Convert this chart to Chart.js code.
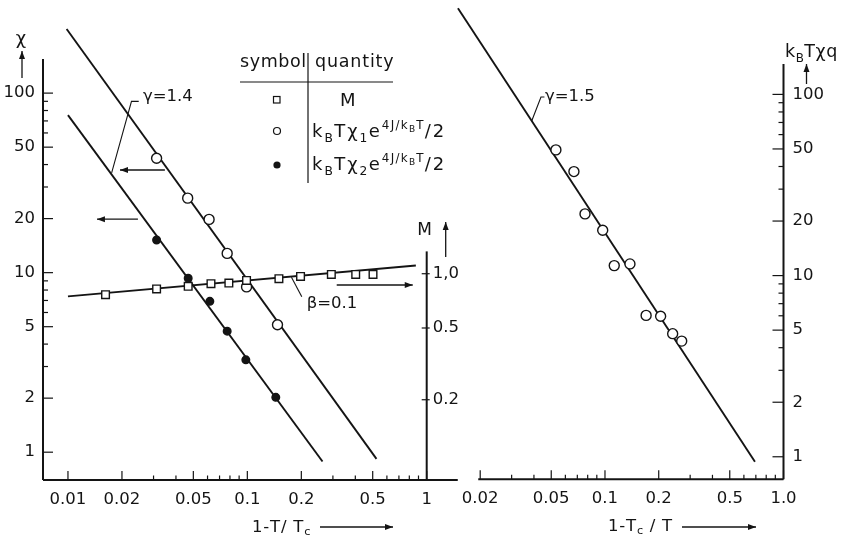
<!DOCTYPE html>
<html>
<head>
<meta charset="utf-8">
<title>Susceptibility and magnetisation exponents</title>
<script src="https://cdn.jsdelivr.net/npm/chart.js@4.4.1/dist/chart.umd.min.js"></script>
<style>
  html, body { margin: 0; padding: 0; background: #fff; }
  #wrap { position: relative; width: 847px; height: 537px; }
  #wrap canvas { position: absolute; left: 0; top: 0; }
</style>
</head>
<body>
<div id="wrap">
  <canvas id="leftChart" width="847" height="537"></canvas>
  <canvas id="rightChart" width="847" height="537"></canvas>
</div>
<script>
// ---- values ----

// left panel, x = 1 - T/Tc
const mT = [0.0162, 0.0312, 0.0468, 0.0627, 0.0789, 0.099, 0.150, 0.198, 0.294, 0.402, 0.502];
const mValues = [0.765, 0.823, 0.851, 0.880, 0.888, 0.918, 0.938, 0.966, 0.991, 0.991, 0.991];
const chi1T = [0.0312, 0.0465, 0.0612, 0.0772, 0.099, 0.1473];
const chi1Values = [43.4, 26.0, 19.8, 12.8, 8.33, 5.13];
const chi2T = [0.0312, 0.0468, 0.0618, 0.0772, 0.0981, 0.1441];
const chi2Values = [15.2, 9.31, 6.92, 4.72, 3.27, 2.02];

// fitted power laws, end points of the drawn lines
const chi1FitT = [0.00983, 0.5248];
const chi1FitValues = [227.5, 0.918];
const chi2FitT = [0.01, 0.2625];
const chi2FitValues = [75.4, 0.888];
const mFitT = [0.01, 0.87];
const mFitValues = [0.749, 1.11];

// right panel, x = 1 - Tc/T
const chiqT = [0.0531, 0.0670, 0.0773, 0.0971, 0.1127, 0.138, 0.170, 0.205, 0.2394, 0.269];
const chiqValues = [49.4, 37.5, 21.9, 17.8, 11.35, 11.6, 6.03, 5.97, 4.78, 4.35];
const chiqFitT = [0.01501, 0.692];
const chiqFitValues = [298.5, 0.939];

// ticks
const leftXTicks = [0.01, 0.02, 0.05, 0.1, 0.2, 0.5, 1];
const leftXLabels = ['0.01', '0.02', '0.05', '0.1', '0.2', '0.5', '1'];
const chiTicks = [1, 2, 5, 10, 20, 50, 100];
const chiLabels = ['1', '2', '5', '10', '20', '50', '100'];
const mTicks = [0.2, 0.5, 1.0];
const mLabels = ['0.2', '0.5', '1,0'];
const rightXTicks = [0.02, 0.05, 0.1, 0.2, 0.5, 1.0];
const rightXLabels = ['0.02', '0.05', '0.1', '0.2', '0.5', '1.0'];
const chiqTicks = [1, 2, 5, 10, 20, 50, 100];
const chiqLabels = ['1', '2', '5', '10', '20', '50', '100'];

// ---- drawing ----
const ink = '#141414';
const fontFamily = '"DejaVu Sans", "Liberation Sans", sans-serif';

function pts(xs, ys) {
  return xs.map((v, i) => ({ x: v, y: ys[i] }));
}

// 3,4,6,7,8,9 times each decade, kept inside [lo, hi]
function minorTicks(decades, lo, hi) {
  const out = [];
  decades.forEach(d => [3, 4, 6, 7, 8, 9].forEach(k => {
    const v = d * k;
    if (v >= lo && v <= hi) out.push(v);
  }));
  return out;
}

function logAxis(o) {
  return {
    type: 'logarithmic',
    position: o.position,
    min: o.min,
    max: o.max,
    grid: { display: false, drawTicks: false },
    border: { display: false },
    afterBuildTicks: s => { s.ticks = o.ticks.map(v => ({ value: v })); },
    afterFit: s => {
      if (o.width != null) s.width = o.width;
      if (o.height != null) s.height = o.height;
      // chart area is pinned by hand, no room kept for half labels
      s.paddingTop = 0;
      s.paddingBottom = 0;
      s.paddingLeft = 0;
      s.paddingRight = 0;
    },
    ticks: {
      autoSkip: false,
      maxRotation: 0,
      minRotation: 0,
      padding: o.padding,
      color: ink,
      font: { family: fontFamily, size: 16.5 },
      callback: (v, i) => o.labels[i]
    }
  };
}

function seg(ctx, points, w) {
  ctx.beginPath();
  ctx.moveTo(points[0][0], points[0][1]);
  for (let i = 1; i < points.length; i++) ctx.lineTo(points[i][0], points[i][1]);
  ctx.lineWidth = w;
  ctx.stroke();
}

function arrow(ctx, x1, y1, x2, y2) {
  seg(ctx, [[x1, y1], [x2, y2]], 1.3);
  const ang = Math.atan2(y2 - y1, x2 - x1);
  const L = 8, H = 3;
  ctx.beginPath();
  ctx.moveTo(x2, y2);
  ctx.lineTo(x2 - L * Math.cos(ang) + H * Math.sin(ang), y2 - L * Math.sin(ang) - H * Math.cos(ang));
  ctx.lineTo(x2 - L * Math.cos(ang) - H * Math.sin(ang), y2 - L * Math.sin(ang) + H * Math.cos(ang));
  ctx.closePath();
  ctx.fill();
}

const RICH = {
  n: { s: 1, dy: 0 },
  sub: { s: 0.68, dy: 0.3 },
  low: { s: 0.68, dy: 0.16 },
  sup: { s: 0.66, dy: -0.45 },
  supsub: { s: 0.5, dy: -0.3 }
};

// draws text made of [text, kind] parts, left aligned on baseline y
function richText(ctx, parts, x, y, size, spacing) {
  let cx = x;
  ctx.textAlign = 'left';
  ctx.textBaseline = 'alphabetic';
  parts.forEach(([text, kind]) => {
    const k = RICH[kind || 'n'];
    ctx.font = `${size * k.s}px ${fontFamily}`;
    for (const ch of text) {
      ctx.fillText(ch, cx, y + size * k.dy);
      cx += ctx.measureText(ch).width + spacing * k.s;
    }
  });
  return cx;
}

function hTicks(ctx, scale, values, y, len) {
  values.forEach(v => {
    const x = scale.getPixelForValue(v);
    seg(ctx, [[x, y], [x, y - len]], 1.2);
  });
}

function vTicks(ctx, scale, values, x, a, b) {
  values.forEach(v => {
    const y = scale.getPixelForValue(v);
    seg(ctx, [[x + a, y], [x + b, y]], 1.2);
  });
}

function leaderPx(xs, ys, pairs) {
  return pairs.map(([vx, vy]) => [xs.getPixelForValue(vx), ys.getPixelForValue(vy)]);
}

function drawLeftDecor(chart) {
  const { ctx, chartArea: a, scales } = chart;
  const x = scales.x, y = scales.y, m = scales.yM;
  ctx.save();
  ctx.strokeStyle = ink;
  ctx.fillStyle = ink;

  // axis lines
  seg(ctx, [[a.left, a.bottom], [x.getPixelForValue(1.49), a.bottom]], 2);
  seg(ctx, [[a.left, a.bottom], [a.left, y.getPixelForValue(155)]], 2);
  seg(ctx, [[a.right, a.bottom], [a.right, m.getPixelForValue(1.33)]], 2);

  // tick marks, pointing inward
  hTicks(ctx, x, leftXTicks, a.bottom, 9);
  hTicks(ctx, x, minorTicks([0.01, 0.1], 0.01, 1), a.bottom, 4.5);
  vTicks(ctx, y, chiTicks, a.left, 0, 10);
  vTicks(ctx, y, minorTicks([1, 10, 100], 1, 155), a.left, 0, 5);
  vTicks(ctx, m, mTicks, a.right, -5, 3);

  // axis titles
  ctx.font = `18px ${fontFamily}`;
  ctx.textAlign = 'center';
  ctx.textBaseline = 'middle';
  ctx.fillText('χ', a.left - 22, 39);
  arrow(ctx, a.left - 21, 78, a.left - 21, 51);
  ctx.font = `17px ${fontFamily}`;
  ctx.fillText('M', a.right - 2, 231);
  arrow(ctx, a.right + 19, 257, a.right + 19, 222);
  richText(ctx, [['1-T/ T'], ['c', 'low']], 252, 532, 16.5, 0.8);
  arrow(ctx, 320, 527, 393, 527);

  // fit annotations
  ctx.font = `16.5px ${fontFamily}`;
  ctx.textAlign = 'left';
  ctx.textBaseline = 'middle';
  const g = leaderPx(x, y, [[0.0262, 95.5]])[0];
  ctx.fillText('γ=1.4', g[0], g[1]);
  seg(ctx, leaderPx(x, y, [[0.0248, 89.9], [0.0226, 89.9], [0.01752, 36.0]]), 1.1);
  const b = leaderPx(x, m, [[0.2143, 0.679]])[0];
  ctx.fillText('β=0.1', b[0], b[1]);
  seg(ctx, leaderPx(x, m, [[0.2012, 0.7455], [0.1762, 0.955]]), 1.1);

  // arrows telling which axis a set belongs to
  const a1 = leaderPx(x, y, [[0.0347, 37.3], [0.0195, 37.3]]);
  arrow(ctx, a1[0][0], a1[0][1], a1[1][0], a1[1][1]);
  const a2 = leaderPx(x, y, [[0.02455, 19.86], [0.01451, 19.86]]);
  arrow(ctx, a2[0][0], a2[0][1], a2[1][0], a2[1][1]);
  const a3 = leaderPx(x, m, [[0.315, 0.866], [0.836, 0.866]]);
  arrow(ctx, a3[0][0], a3[0][1], a3[1][0], a3[1][1]);

  // symbol / quantity table
  seg(ctx, [[240, 82], [393, 82]], 1.2);
  seg(ctx, [[308, 53], [308, 183]], 1.2);
  richText(ctx, [['symbol']], 240, 67, 17.5, 0.6);
  richText(ctx, [['quantity']], 315, 67, 17.5, 0.8);
  richText(ctx, [['M']], 340, 106, 18, 1);
  const q = [['k'], ['B', 'sub'], ['Tχ']];
  const tail = [['e'], ['4J/k', 'sup'], ['B', 'supsub'], ['T', 'sup'], ['/2']];
  richText(ctx, q.concat([['1', 'sub']], tail), 312, 137, 18, 2);
  richText(ctx, q.concat([['2', 'sub']], tail), 312, 170, 18, 2);
  ctx.lineWidth = 1.2;
  ctx.strokeRect(273.5, 96.5, 6.5, 6.5);
  ctx.beginPath();
  ctx.arc(277, 131, 3.5, 0, Math.PI * 2);
  ctx.stroke();
  ctx.beginPath();
  ctx.arc(277, 165, 3.6, 0, Math.PI * 2);
  ctx.fill();
  ctx.restore();
}

function drawRightDecor(chart) {
  const { ctx, chartArea: a, scales } = chart;
  const x = scales.x, y = scales.y;
  ctx.save();
  ctx.strokeStyle = ink;
  ctx.fillStyle = ink;

  seg(ctx, [[x.getPixelForValue(0.0195), a.bottom], [a.right, a.bottom]], 2);
  seg(ctx, [[a.right, a.bottom], [a.right, y.getPixelForValue(147)]], 2);

  hTicks(ctx, x, rightXTicks, a.bottom, 9);
  hTicks(ctx, x, minorTicks([0.01, 0.1], 0.021, 1), a.bottom, 4.5);
  vTicks(ctx, y, chiqTicks, a.right, -11, 0);
  vTicks(ctx, y, minorTicks([1, 10, 100], 1, 147), a.right, -5, 0);

  richText(ctx, [['k'], ['B', 'sub'], ['Tχq']], 785, 57, 17.5, 0.6);
  arrow(ctx, a.right + 23, 84, a.right + 23, 64);
  richText(ctx, [['1-T'], ['c', 'low'], [' / T']], 608, 531, 16.5, 0.8);
  arrow(ctx, 682, 527, 756, 527);

  ctx.font = `16.5px ${fontFamily}`;
  ctx.textAlign = 'left';
  ctx.textBaseline = 'middle';
  const g = leaderPx(x, y, [[0.04611, 96.7]])[0];
  ctx.fillText('γ=1.5', g[0], g[1]);
  seg(ctx, leaderPx(x, y, [[0.0458, 96.7], [0.0438, 96.7], [0.03886, 71.3]]), 1.1);
  ctx.restore();
}

function fitLine(label, xs, ys, axis) {
  return {
    label, data: pts(xs, ys), yAxisID: axis, showLine: true, fill: false,
    pointRadius: 0, borderColor: ink, borderWidth: 1.9, clip: false, order: 1
  };
}

function markers(label, xs, ys, axis, style, radius, fill) {
  return {
    label, data: pts(xs, ys), yAxisID: axis, showLine: false,
    pointStyle: style, pointRadius: radius, backgroundColor: fill,
    borderColor: ink, borderWidth: 1.4, clip: false, order: 0
  };
}

const common = {
  responsive: false,
  animation: false,
  events: [],
  plugins: { legend: { display: false }, tooltip: { enabled: false } }
};

new Chart(document.getElementById('leftChart'), {
  type: 'scatter',
  data: {
    datasets: [
      markers('M', mT, mValues, 'yM', 'rect', 5.4, '#fff'),
      markers('kBTχ1 e^(4J/kBT)/2', chi1T, chi1Values, 'y', 'circle', 5, '#fff'),
      markers('kBTχ2 e^(4J/kBT)/2', chi2T, chi2Values, 'y', 'circle', 3.8, ink),
      fitLine('γ=1.4 (χ1)', chi1FitT, chi1FitValues, 'y'),
      fitLine('γ=1.4 (χ2)', chi2FitT, chi2FitValues, 'y'),
      fitLine('β=0.1', mFitT, mFitValues, 'yM')
    ]
  },
  options: {
    ...common,
    layout: { padding: { left: 0, right: 0, top: 20, bottom: 0 } },
    scales: {
      x: logAxis({ position: 'bottom', min: 0.007258, max: 1, ticks: leftXTicks, labels: leftXLabels, height: 57, padding: 10 }),
      y: logAxis({ position: 'left', min: 0.7176, max: 255.4, ticks: chiTicks, labels: chiLabels, width: 43, padding: 8 }),
      yM: logAxis({ position: 'right', min: 0.07176, max: 25.54, ticks: mTicks, labels: mLabels, width: 420.3, padding: 6 })
    }
  },
  plugins: [{ id: 'leftDecor', afterDraw: drawLeftDecor }]
});

new Chart(document.getElementById('rightChart'), {
  type: 'scatter',
  data: {
    datasets: [
      markers('kBTχq', chiqT, chiqValues, 'y', 'circle', 5, '#fff'),
      fitLine('γ=1.5', chiqFitT, chiqFitValues, 'y')
    ]
  },
  options: {
    ...common,
    layout: { padding: { left: 455, right: 0, top: 5, bottom: 0 } },
    scales: {
      x: logAxis({ position: 'bottom', min: 0.01445, max: 1.0, ticks: rightXTicks, labels: rightXLabels, height: 57.7, padding: 10 }),
      y: logAxis({ position: 'right', min: 0.751, max: 306, ticks: chiqTicks, labels: chiqLabels, width: 63.5, padding: 9 })
    }
  },
  plugins: [{ id: 'rightDecor', afterDraw: drawRightDecor }]
});
</script>
</body>
</html>
